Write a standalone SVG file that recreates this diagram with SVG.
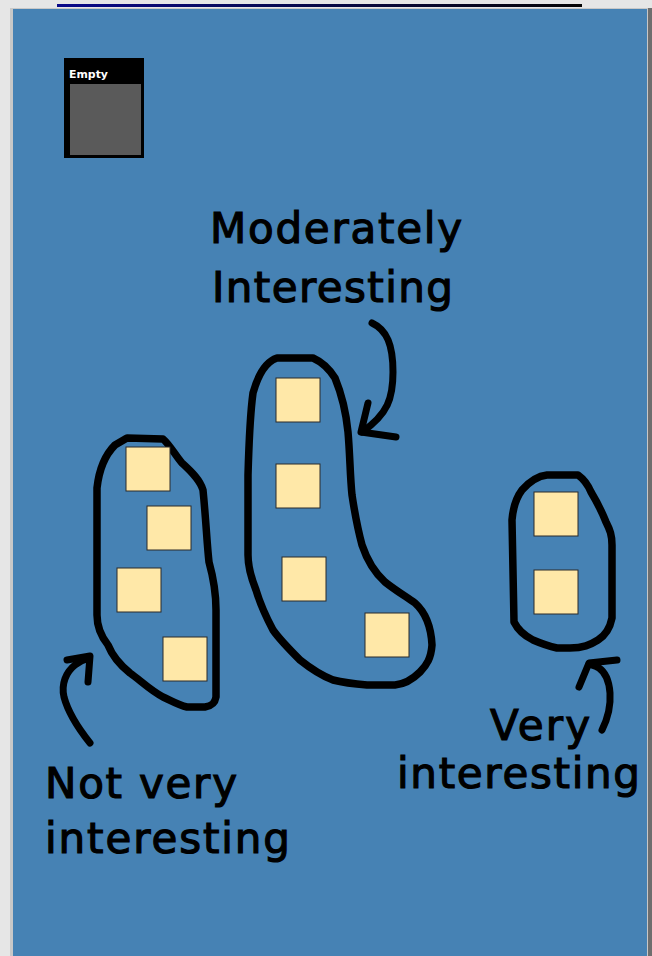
<svg xmlns="http://www.w3.org/2000/svg" width="652" height="956" viewBox="0 0 652 956">
  <defs>
    <linearGradient id="topbar" x1="0" y1="0" x2="1" y2="0">
      <stop offset="0" stop-color="#0a0a8a"/>
      <stop offset="1" stop-color="#050505"/>
    </linearGradient>
  </defs>
  <style>
    .blob { fill: none; stroke: #000; stroke-width: 7.5; stroke-linejoin: round; stroke-linecap: round; }
    .arrow { fill: none; stroke: #000; stroke-width: 7; stroke-linejoin: round; stroke-linecap: round; }
    .sq { fill: #FFE8A8; stroke: #2a2a2a; stroke-width: 1; }
    .lbl { font-family: "DejaVu Sans", "Liberation Sans", sans-serif; font-size: 42px; fill: #000; stroke: #000; stroke-width: 1.2; }
  </style>
  <!-- frame -->
  <rect x="0" y="0" width="652" height="956" fill="#e6e6e6"/>
  <rect x="57" y="4" width="525" height="3" fill="url(#topbar)"/>
  <rect x="10" y="8" width="642" height="948" fill="#c8c8c8"/>
  <rect x="13" y="9" width="634" height="947" fill="#4682B4"/>
  <rect x="648" y="8" width="4" height="948" fill="#6e6e6e"/>

  <!-- Empty box -->
  <g id="empty-box">
    <rect x="64" y="58" width="80" height="100" fill="#000"/>
    <rect x="70" y="84" width="71" height="71" fill="#5a5a5a"/>
    <text x="69" y="78" font-family="DejaVu Sans, sans-serif" font-size="10" font-weight="bold" fill="#fff" textLength="39" lengthAdjust="spacingAndGlyphs">Empty</text>
  </g>

  <!-- left group: Not very interesting -->
  <g id="group-not-very">
    <path class="blob" d="M127,438 L163,439 C170,445 175,455 182,463 C192,472 200,480 203,490 C206,520 207,545 209,562 C214,580 216,595 216,610 L216,697 C215,703 212,706 205,707 L187,707 C178,705 170,700 163,697 C150,690 140,680 130,673 C120,665 112,655 108,645 C100,635 97,625 97,615 L97,488 C99,470 105,455 115,445 Z"/>
    <rect class="sq" x="126" y="447" width="44" height="44"/>
    <rect class="sq" x="147" y="506" width="44" height="44"/>
    <rect class="sq" x="117" y="568" width="44" height="44"/>
    <rect class="sq" x="163" y="637" width="44" height="44"/>
  </g>

  <!-- middle group: Moderately Interesting -->
  <g id="group-moderately">
    <path class="blob" d="M277,358 L313,358 C322,362 330,370 335,378 C342,395 346,412 348,432 C350,455 350,475 352,495 C355,515 358,530 362,545 C367,560 374,572 385,582 C395,590 405,596 415,603 C425,612 431,625 432,645 C431,658 427,665 420,672 C412,680 405,684 395,685 L367,685 C355,684 345,683 333,680 C320,675 310,668 300,660 C290,650 280,640 273,630 C265,615 259,600 256,590 C250,575 248,565 248,555 L248,475 C249,440 250,415 253,393 C258,375 265,362 277,358 Z"/>
    <rect class="sq" x="276" y="378" width="44" height="44"/>
    <rect class="sq" x="276" y="464" width="44" height="44"/>
    <rect class="sq" x="282" y="557" width="44" height="44"/>
    <rect class="sq" x="365" y="613" width="44" height="44"/>
  </g>

  <!-- right group: Very interesting -->
  <g id="group-very">
    <path class="blob" d="M547,475 L578,475 C585,480 588,485 591,492 C597,502 602,512 606,522 C610,530 612,535 612,545 L612,618 C610,628 606,635 598,640 C590,645 583,648 570,648 L557,648 C548,646 540,643 533,640 C525,636 518,630 514,622 L512,520 C513,508 516,498 522,490 C530,481 538,476 547,475 Z"/>
    <rect class="sq" x="534" y="492" width="44" height="44"/>
    <rect class="sq" x="534" y="570" width="44" height="44"/>
  </g>

  <!-- connectors -->
  <g id="connectors">
    <path class="arrow" d="M372,323 C387,330 393,345 393,372 C393,398 388,414 362,432"/>
    <path class="arrow" d="M368,403 L361,432 L396,437"/>
    <path class="arrow" d="M90,743 C78,728 68,712 64,697 C61,684 66,672 75,665 C80,661 85,659 89,658"/>
    <path class="arrow" d="M67,660 L90,656 L88,682"/>
    <path class="arrow" d="M602,730 C607,720 611,708 610,693 C609,680 605,672 599,668 C596,666 592,665 589,664"/>
    <path class="arrow" d="M617,660 L589,663 L579,687"/>
  </g>

  <!-- labels -->
  <g id="labels">
    <text class="lbl" x="210" y="243" textLength="252" lengthAdjust="spacing">Moderately</text>
    <text class="lbl" x="212" y="302" textLength="241" lengthAdjust="spacing">Interesting</text>
    <text class="lbl" x="45" y="798" textLength="192" lengthAdjust="spacing">Not very</text>
    <text class="lbl" x="45" y="853" textLength="245" lengthAdjust="spacing">interesting</text>
    <text class="lbl" x="490" y="740" textLength="100" lengthAdjust="spacing">Very</text>
    <text class="lbl" x="397" y="788" textLength="243" lengthAdjust="spacing">interesting</text>
  </g>
</svg>
